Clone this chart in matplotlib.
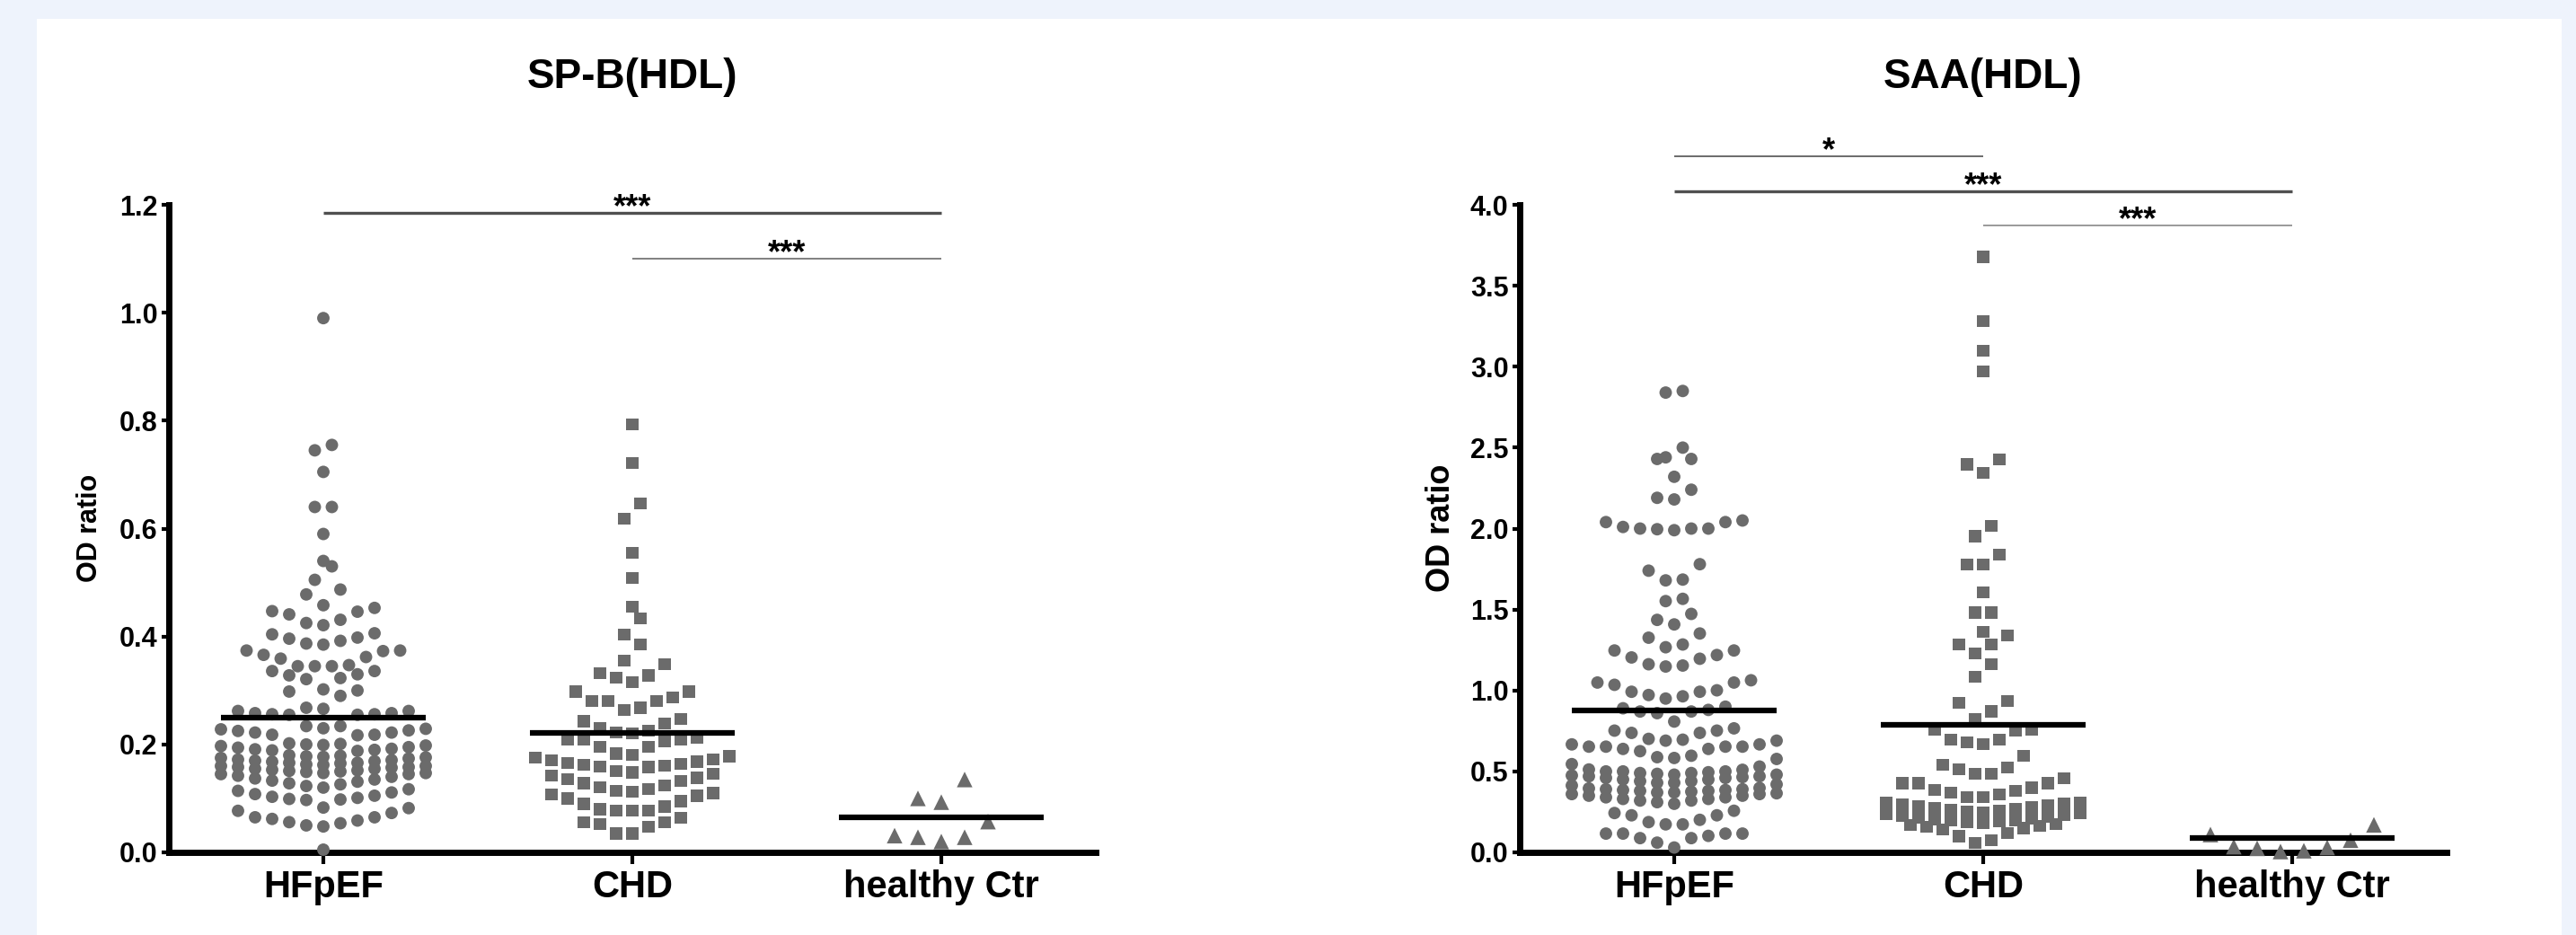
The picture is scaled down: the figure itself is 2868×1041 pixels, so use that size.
import numpy as np
import matplotlib
matplotlib.use("Agg")
import matplotlib.pyplot as plt
from matplotlib.patches import Rectangle

plt.rcParams['font.family'] = ['Liberation Sans', 'DejaVu Sans']
plt.rcParams['font.weight'] = 'bold'

# ---- data ----
groups = ["HFpEF", "CHD", "healthy Ctr"]

sp_b_hfpef = [
    0.99, 0.755, 0.745, 0.705, 0.64, 0.64, 0.59, 0.54, 0.53, 0.505, 0.487, 0.478,
    0.458, 0.453, 0.447, 0.446, 0.441, 0.431, 0.425, 0.421, 0.406, 0.404,
    0.398, 0.396, 0.392, 0.387, 0.385, 0.374, 0.374, 0.373, 0.366, 0.362, 0.359,
    0.347, 0.345, 0.345, 0.345, 0.336, 0.336, 0.330, 0.328, 0.323, 0.321,
    0.302, 0.300, 0.298, 0.290,
    0.268, 0.266, 0.262, 0.262, 0.258, 0.258, 0.256, 0.256, 0.255, 0.255,
    0.234, 0.234, 0.230, 0.229, 0.228, 0.226, 0.225, 0.222, 0.222, 0.218, 0.218, 0.217,
    0.202, 0.201, 0.200, 0.199, 0.198, 0.197, 0.195, 0.194, 0.192, 0.191, 0.190, 0.189, 0.188,
    0.180, 0.179, 0.178, 0.177, 0.176, 0.175, 0.174, 0.172, 0.171, 0.170, 0.169, 0.168, 0.166,
    0.166, 0.165, 0.163, 0.162, 0.160, 0.158, 0.157, 0.155, 0.153, 0.151, 0.149, 0.147, 0.145,
    0.160, 0.158, 0.155, 0.152, 0.150, 0.147, 0.145, 0.142, 0.140, 0.137, 0.135, 0.133, 0.131,
    0.128, 0.126, 0.123, 0.120, 0.117, 0.114, 0.111, 0.108, 0.105, 0.103, 0.101, 0.099, 0.098, 0.097,
    0.083, 0.082, 0.077, 0.073, 0.065, 0.065, 0.062, 0.059, 0.056, 0.054, 0.050, 0.048,
    0.005,
]
sp_b_chd = [
    0.793, 0.722, 0.646, 0.618, 0.555, 0.509, 0.455, 0.434, 0.404, 0.385,
    0.355, 0.349, 0.332, 0.328, 0.324, 0.315, 0.298, 0.298,
    0.287, 0.280, 0.280, 0.280, 0.268, 0.264, 0.247, 0.243, 0.239,
    0.230, 0.226, 0.222, 0.220,
    0.213, 0.209, 0.209, 0.209, 0.205, 0.196, 0.196,
    0.183, 0.180, 0.178, 0.175, 0.172, 0.170, 0.168, 0.166, 0.164, 0.162, 0.160, 0.159, 0.158,
    0.150, 0.148, 0.145, 0.142, 0.138, 0.135, 0.132, 0.128, 0.124, 0.120, 0.117, 0.114, 0.112, 0.110,
    0.107, 0.105, 0.100, 0.095, 0.090, 0.085, 0.080, 0.077,
    0.077, 0.077, 0.064, 0.056, 0.056, 0.052, 0.048, 0.035, 0.035,
]
sp_b_ctr = [0.135, 0.100, 0.093, 0.057, 0.031, 0.028, 0.028, 0.020]
sp_b_means = [0.250, 0.221, 0.065]

saa_hfpef = [
    2.85, 2.84, 2.50, 2.44, 2.43, 2.43, 2.32, 2.24, 2.19, 2.18,
    2.05, 2.04, 2.04, 2.01, 2.00, 2.00, 2.00, 1.996, 1.99,
    1.78, 1.74, 1.685, 1.68, 1.566, 1.552, 1.473, 1.436, 1.408, 1.352, 1.326,
    1.284, 1.267, 1.247, 1.247, 1.219, 1.204, 1.196, 1.162, 1.154, 1.148,
    1.063, 1.049, 1.049, 1.035, 1.001, 0.992, 0.992, 0.972, 0.964, 0.950,
    0.90, 0.89, 0.88, 0.87, 0.87, 0.86,
    0.808, 0.766, 0.752, 0.752, 0.738, 0.738, 0.701, 0.696, 0.690, 0.690,
    0.667, 0.667, 0.653, 0.653, 0.653, 0.653, 0.639, 0.639, 0.625, 0.597, 0.588, 0.583, 0.577,
    0.545, 0.530,
    0.512, 0.510, 0.500, 0.500, 0.490, 0.485, 0.480, 0.470, 0.465, 0.460, 0.450, 0.440, 0.430,
    0.500, 0.495, 0.490, 0.480, 0.475, 0.470, 0.460, 0.450, 0.440, 0.430, 0.420, 0.413,
    0.398, 0.395, 0.390, 0.385, 0.380, 0.375, 0.370, 0.360, 0.350, 0.340, 0.330, 0.320,
    0.390, 0.385, 0.380, 0.370, 0.365, 0.360, 0.350, 0.340, 0.330, 0.320, 0.310, 0.300,
    0.257, 0.243, 0.229, 0.229, 0.201, 0.187, 0.173, 0.173,
    0.116, 0.116, 0.116, 0.116, 0.102, 0.088, 0.088, 0.060,
    0.030,
]
saa_chd = [
    3.678, 3.282, 3.098, 2.971, 2.425, 2.397, 2.343,
    2.018, 1.953, 1.840, 1.778, 1.778, 1.606, 1.481, 1.481,
    1.360, 1.340, 1.284, 1.284, 1.227, 1.162, 1.083,
    0.936, 0.922, 0.871, 0.823, 0.758, 0.758, 0.752, 0.696, 0.696, 0.681, 0.667,
    0.597, 0.540, 0.526, 0.512, 0.484, 0.484, 0.456,
    0.427, 0.427, 0.427, 0.399, 0.385, 0.379, 0.371, 0.357, 0.343, 0.343,
    0.310, 0.305, 0.300, 0.295, 0.290, 0.285, 0.280, 0.275, 0.270, 0.265, 0.260,
    0.250, 0.245, 0.240, 0.235, 0.230, 0.225, 0.220, 0.215, 0.210, 0.205, 0.200,
    0.195, 0.190, 0.185, 0.180, 0.175, 0.170, 0.165, 0.160, 0.150, 0.140,
    0.120, 0.100, 0.075, 0.060,
]
saa_ctr = [0.170, 0.110, 0.075, 0.035, 0.030, 0.025, 0.010, 0.005]
saa_means = [0.879, 0.786, 0.089]

# significance brackets: (from group, to group, height, label)
sp_b_sig = [(0, 2, 1.185, "***"), (1, 2, 1.100, "***")]
saa_sig = [(0, 1, 4.300, "*"), (0, 2, 4.083, "***"), (1, 2, 3.870, "***")]

# ---- styling ----
W, H = 2868, 1041
DOT = "#6b6b6b"
markers = ["o", "s", "^"]
msizes = [10.0, 9.5, 12.5]         # points
dx_px = [19, 18, 26]               # horizontal spacing inside a row (pixels)
row_px = [21, 21, 34]              # row height (pixels)
max_row = [13, 13, 13]
sp_b_sig_style = [("#505050", 2.4), ("#808080", 1.4)]
saa_sig_style = [("#6a6a6a", 1.4), ("#505050", 2.4), ("#9a9a9a", 1.4)]


def swarm_offsets(values, bin_h, dx, max_n):
    """GraphPad-like scatter: group sorted values into rows, lowest in the middle."""
    values = np.asarray(values)
    order = np.argsort(values, kind="stable")
    bins, cur, start = [], [], None
    for i in order:
        v = values[i]
        if cur and (v - start > bin_h or len(cur) >= max_n):
            bins.append(cur)
            cur = []
        if not cur:
            start = v
        cur.append(i)
    if cur:
        bins.append(cur)
    off = np.zeros(len(values))
    for b in bins:
        n = len(b)
        slots = (np.arange(n) - (n - 1) / 2) * dx
        slots = sorted(slots, key=lambda s: (abs(s), s))
        for idx, s in zip(b, slots):
            off[idx] = s
    return off


fig = plt.figure(figsize=(W / 100, H / 100), dpi=100)
fig.patch.set_facecolor("#eef3fc")
fig.add_artist(Rectangle((41 / W, 0), (2852 - 41) / W, (H - 21) / H,
                         transform=fig.transFigure, facecolor="white",
                         edgecolor="none", zorder=0))

ax_w_px, ax_h_px = 1032, 721


def draw_panel(left_px, data, means, ymax, yticks, sig, sig_style, title, ylab_size):
    ax = fig.add_axes([left_px / W, 1 - 949 / H, ax_w_px / W, ax_h_px / H])
    ax.set_facecolor("none")
    ax.set_xlim(-0.5, 2.5)
    ax.set_ylim(0, ymax)
    units_per_px_x = 3.0 / ax_w_px
    units_per_px_y = ymax / ax_h_px

    for g, vals in enumerate(data):
        off = swarm_offsets(vals, row_px[g] * units_per_px_y,
                            dx_px[g] * units_per_px_x, max_row[g])
        ax.scatter(g + off, vals, marker=markers[g], s=msizes[g] ** 2,
                   color=DOT, edgecolors="none", zorder=3, clip_on=False)
        ax.hlines(means[g], g - 0.33, g + 0.33, color="black", lw=4.5, zorder=4)

    for (a, b, y, lab), (col, lw) in zip(sig, sig_style):
        ax.plot([a, b], [y, y], color=col, lw=lw, clip_on=False, zorder=2,
                solid_capstyle="butt")
        ax.annotate(lab, xy=((a + b) / 2, y), xytext=(0, -3),
                    textcoords="offset points", ha="center", va="baseline",
                    fontsize=26, fontweight="bold", annotation_clip=False)

    for s in ("top", "right"):
        ax.spines[s].set_visible(False)
    for s in ("left", "bottom"):
        ax.spines[s].set_linewidth(5)
        ax.spines[s].set_capstyle("projecting")

    ax.set_xticks(range(len(groups)))
    ax.set_xticklabels(groups, fontsize=30, fontweight="bold")
    ax.set_yticks(yticks)
    ax.set_yticklabels([f"{t:.1f}" for t in yticks], fontsize=22, fontweight="bold")
    ax.tick_params(axis="x", length=9, width=3, pad=5, direction="out")
    ax.tick_params(axis="y", length=6, width=3, pad=3, direction="out")

    cx = (left_px + ax_w_px / 2) / W
    fig.text(cx, 1 - 86 / H, title, ha="center", va="center",
             fontsize=33, fontweight="bold")
    fig.text((left_px - 88) / W, 1 - 588 / H, "OD ratio", rotation=90,
             ha="center", va="center", fontsize=ylab_size, fontweight="bold")
    return ax


draw_panel(188, [sp_b_hfpef, sp_b_chd, sp_b_ctr], sp_b_means, 1.2,
           [0.0, 0.2, 0.4, 0.6, 0.8, 1.0, 1.2], sp_b_sig, sp_b_sig_style,
           "SP-B(HDL)", 22)
draw_panel(1692, [saa_hfpef, saa_chd, saa_ctr], saa_means, 4.0,
           [0.0, 0.5, 1.0, 1.5, 2.0, 2.5, 3.0, 3.5, 4.0], saa_sig, saa_sig_style,
           "SAA(HDL)", 26)

fig.savefig("out.png", dpi=100, facecolor=fig.get_facecolor())
